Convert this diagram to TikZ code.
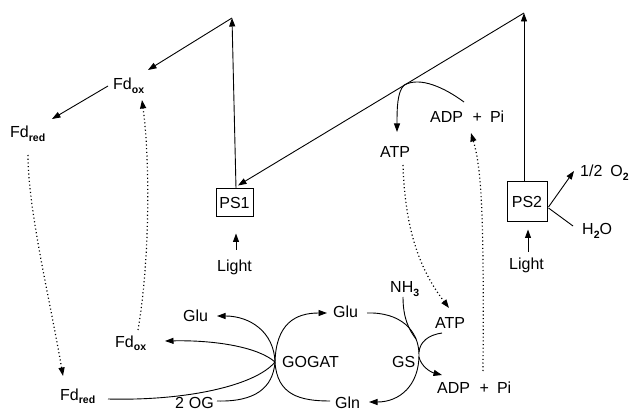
\documentclass[tikz,border=0pt]{standalone}
\usepackage{fontspec}
\setmainfont{Liberation Sans}
\usetikzlibrary{arrows.meta}
\newcommand{\sbs}[1]{\raisebox{-0.38ex}{\fontsize{10.5}{10.5}\selectfont\bfseries #1}}
\begin{document}
\begin{tikzpicture}[x=1pt,y=-1pt,
  lbl/.style={inner sep=0pt,anchor=base west,font=\fontsize{16}{19}\selectfont},
  psbox/.style={draw,line width=1pt,inner sep=0pt,font=\fontsize{16}{19}\selectfont},
  ln/.style={line width=0.9pt},
  arr/.style={ln,-{Triangle[length=8.5pt,width=6pt]}},
  dots/.style={line width=1.2pt,dash pattern=on 1.1pt off 2.6pt},
  darr/.style={dots,-{Triangle[length=8.5pt,width=6pt]}}]
\useasboundingbox (0,0) rectangle (634,411);
% labels
\node[lbl] (fdoxA) at (113,90) {Fd\sbs{ox}};
\node[lbl] (fdredA) at (10,138) {Fd\sbs{red}};
\node[lbl] (atpA) at (380,158) {ATP};
\node[lbl] (adpA) at (430,123) {ADP\hspace{0.6em}+\hspace{0.5em}Pi};
\node[lbl] (light1) at (217,272) {Light};
\node[lbl] (light2) at (509,270) {Light};
\node[lbl] (otwo) at (580,177) {1/2\hspace{0.5em}O\sbs{2}};
\node[lbl] (water) at (582,235) {H\sbs{2}O};
\node[lbl] (nh3) at (390,293) {NH\sbs{3}};
\node[lbl] (atpB) at (435,328) {ATP};
\node[lbl] (gluR) at (333,318) {Glu};
\node[lbl] (gogat) at (282,367) {GOGAT};
\node[lbl] (gs) at (392,367) {GS};
\node[lbl] (adpB) at (437,393) {ADP\hspace{0.6em}+\hspace{0.5em}Pi};
\node[lbl] (gln) at (335,408) {Gln};
\node[lbl] (gluL) at (183,322) {Glu};
\node[lbl] (fdoxB) at (115,347) {Fd\sbs{ox}};
\node[lbl] (fdredB) at (60,400) {Fd\sbs{red}};
\node[lbl] (og) at (175,408) {2\hspace{0.3em}OG};
% photosystems
\node[psbox,minimum width=37pt,minimum height=28pt] (ps1) at (234.5,203) {PS1};
\node[psbox,minimum width=40pt,minimum height=40pt] (ps2) at (527,202) {PS2};
\coordinate (apex1) at (232,18);
\coordinate (apex2) at (524,13);
\coordinate (j1) at (404,85.2);
\coordinate (g) at (275,362);
\coordinate (gsm) at (419,355);
% Z-scheme
\draw[arr] ([shift={(1.5,0)}]ps1.north) -- (apex1);
\draw[arr] (apex1) -- ([shift={(35,-20)}]fdoxA.base west);
\draw[arr] ([shift={(-5,-4)}]fdoxA.base west) -- ([shift={(42,-19)}]fdredA.base west);
\draw[arr] (apex2) -- ([shift={(3.5,-3)}]ps1.north);
\draw[arr] ([shift={(-3,0)}]ps2.north) -- (apex2);
\draw[arr] ([shift={(34,-21)}]adpA.base west) .. controls (445,88) and (420,76) .. (j1)
   .. controls (397,92) and (397,110) .. ([shift={(17,-26)}]atpA.base west);
\draw[arr] ([shift={(19,-22)}]light1.base west) -- ([shift={(1.5,16)}]ps1.south);
\draw[arr] ([shift={(19,-18)}]light2.base west) -- ([shift={(1,7)}]ps2.south);
\draw[arr] ([shift={(1,5)}]ps2.east) -- ([shift={(-6,-6)}]otwo.base west);
\draw[ln] ([shift={(1,6)}]ps2.east) -- ([shift={(-9,-9)}]water.base west);
% dotted links
\draw[darr] ([shift={(18,17)}]fdredA.base west) .. controls (28,210) and (50,300) .. ([shift={(3,-24)}]fdredB.base west);
\draw[darr] ([shift={(23,-17)}]fdoxB.base west) .. controls (150,260) and (150,160) .. ([shift={(29,10)}]fdoxA.base west);
\draw[darr] ([shift={(23,7)}]atpA.base west) .. controls (405,230) and (420,270) .. ([shift={(14,-20)}]atpB.base west);
\draw[darr] ([shift={(46,-22)}]adpB.base west) .. controls (484,220) and (482,170) .. ([shift={(41,10)}]adpA.base west);
% GOGAT
\draw[arr] (g) .. controls (274,332) and (250,316) .. ([shift={(34,-6)}]gluL.base west);
\draw[arr] (g) .. controls (258,347) and (215,340) .. ([shift={(50,-6)}]fdoxB.base west);
\draw[ln] ([shift={(48,-1)}]fdredB.base west) .. controls (185,401) and (255,386) .. (g);
\draw[ln] ([shift={(42,-7)}]og.base west) .. controls (255,402) and (273,388) .. (g);
\draw[arr] (g) .. controls (276,324) and (295,313) .. ([shift={(-6,-5)}]gluR.base west);
\draw[ln] (g) .. controls (277,395) and (300,401) .. ([shift={(-5,-7)}]gln.base west);
% GS
\draw[arr] ([shift={(34,-5)}]gluR.base west) .. controls (400,312) and (419,330) .. (gsm)
   .. controls (419,385) and (400,402) .. ([shift={(34,-6)}]gln.base west);
\draw[ln] ([shift={(13,4)}]nh3.base west) .. controls (403,318) and (409,330) .. (416,339);
\draw[ln] ([shift={(7,5)}]atpB.base west) .. controls (428,335) and (420,342) .. (419,352);
\draw[arr] (419,357) .. controls (421,366) and (430,372) .. ([shift={(5,-18)}]adpB.base west);
\end{tikzpicture}
\end{document}
